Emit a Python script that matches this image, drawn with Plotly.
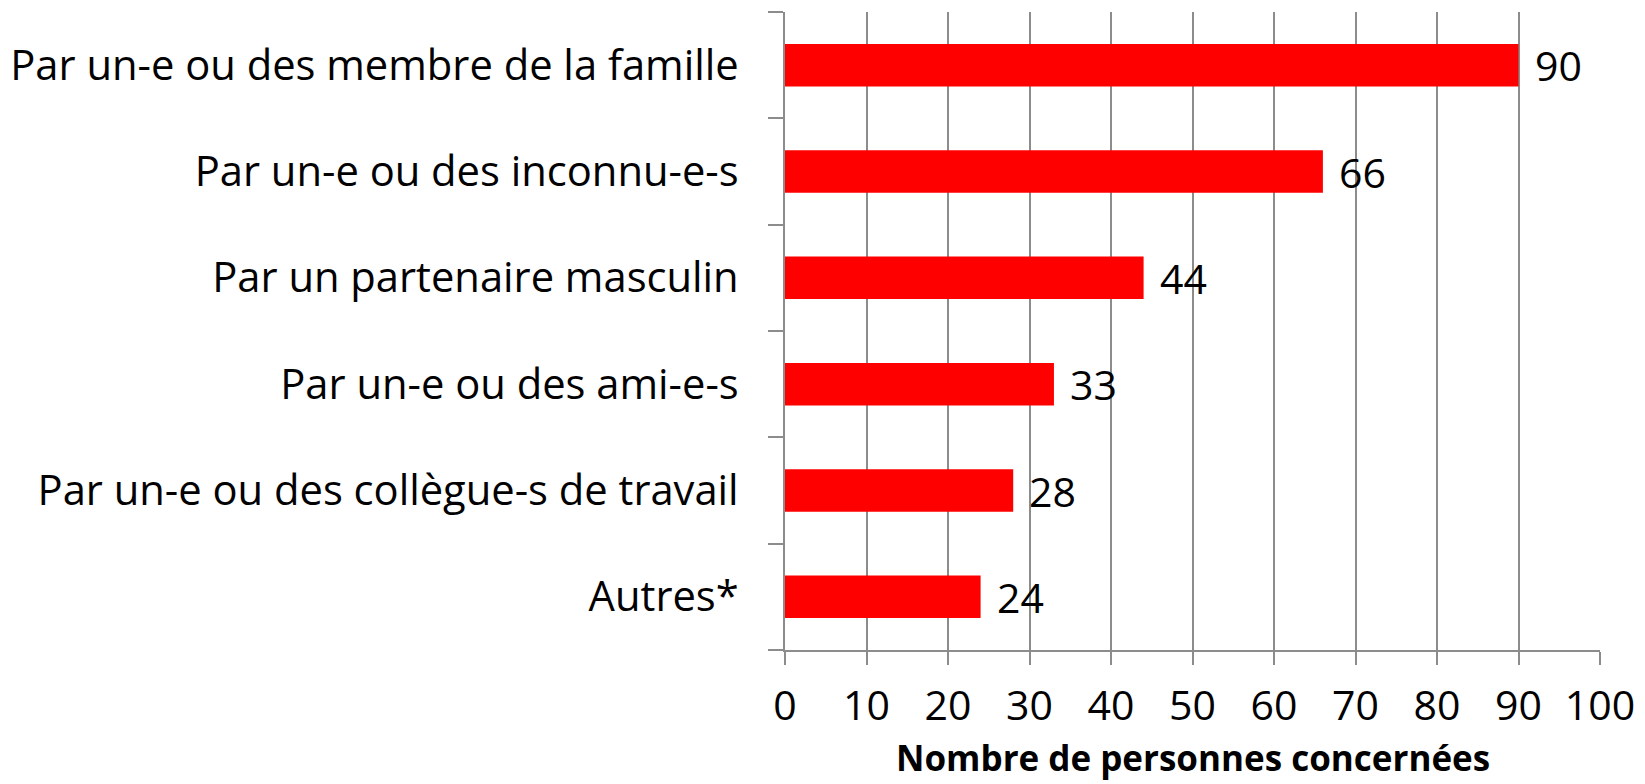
import plotly.graph_objects as go

categories = [
    "Par un-e ou des membre de la famille",
    "Par un-e ou des inconnu-e-s",
    "Par un partenaire masculin",
    "Par un-e ou des ami-e-s",
    "Par un-e ou des collègue-s de travail",
    "Autres*",
]
values = [90, 66, 44, 33, 28, 24]
x_ticks = [0, 10, 20, 30, 40, 50, 60, 70, 80, 90, 100]
x_title = "Nombre de personnes concernées"

FONT = "Open Sans"
GRID = "#8c8c8c"

fig = go.Figure()
fig.add_trace(go.Bar(
    x=values, y=categories, orientation="h",
    marker=dict(color="#ff0000", line=dict(width=0)),
    width=0.4,
    hoverinfo="x+y",
))

for c, v in zip(categories, values):
    fig.add_annotation(x=v, y=c, text=str(v), showarrow=False,
                       xanchor="left", xshift=14,
                       font=dict(family=FONT, size=41, color="black"))

fig.add_annotation(x=0.5, xref="paper", y=-0.168, yref="paper",
                   text="<b>" + x_title + "</b>", showarrow=False,
                   xanchor="center", yanchor="middle",
                   font=dict(family=FONT, size=35, color="black"))

fig.update_layout(
    width=1637, height=776,
    margin=dict(l=777, r=45, t=4, b=134),
    paper_bgcolor="white", plot_bgcolor="white",
    showlegend=False,
    font=dict(family=FONT, color="black"),
)
fig.update_xaxes(
    range=[0, 100], tickvals=x_ticks, ticktext=[str(t) for t in x_ticks],
    automargin=False,
    showgrid=True, gridcolor=GRID, gridwidth=2,
    showline=True, linecolor=GRID, linewidth=2,
    ticks="outside", ticklen=13, tickcolor=GRID, tickwidth=2,
    tickfont=dict(family=FONT, size=41, color="black"),
    ticklabelstandoff=6,
    zeroline=False, mirror=False,
)
fig.update_yaxes(
    categoryorder="array", categoryarray=categories[::-1],
    autorange=False, range=[-0.5, 5.5],
    automargin=False,
    showgrid=False, showline=True, linecolor=GRID, linewidth=2,
    ticks="outside", ticklen=15, tickcolor=GRID, tickwidth=2,
    tickson="boundaries",
    tickfont=dict(family=FONT, size=41.7, color="black"),
    ticklabelstandoff=36,
    zeroline=False,
)
fig.write_html("out.html")
